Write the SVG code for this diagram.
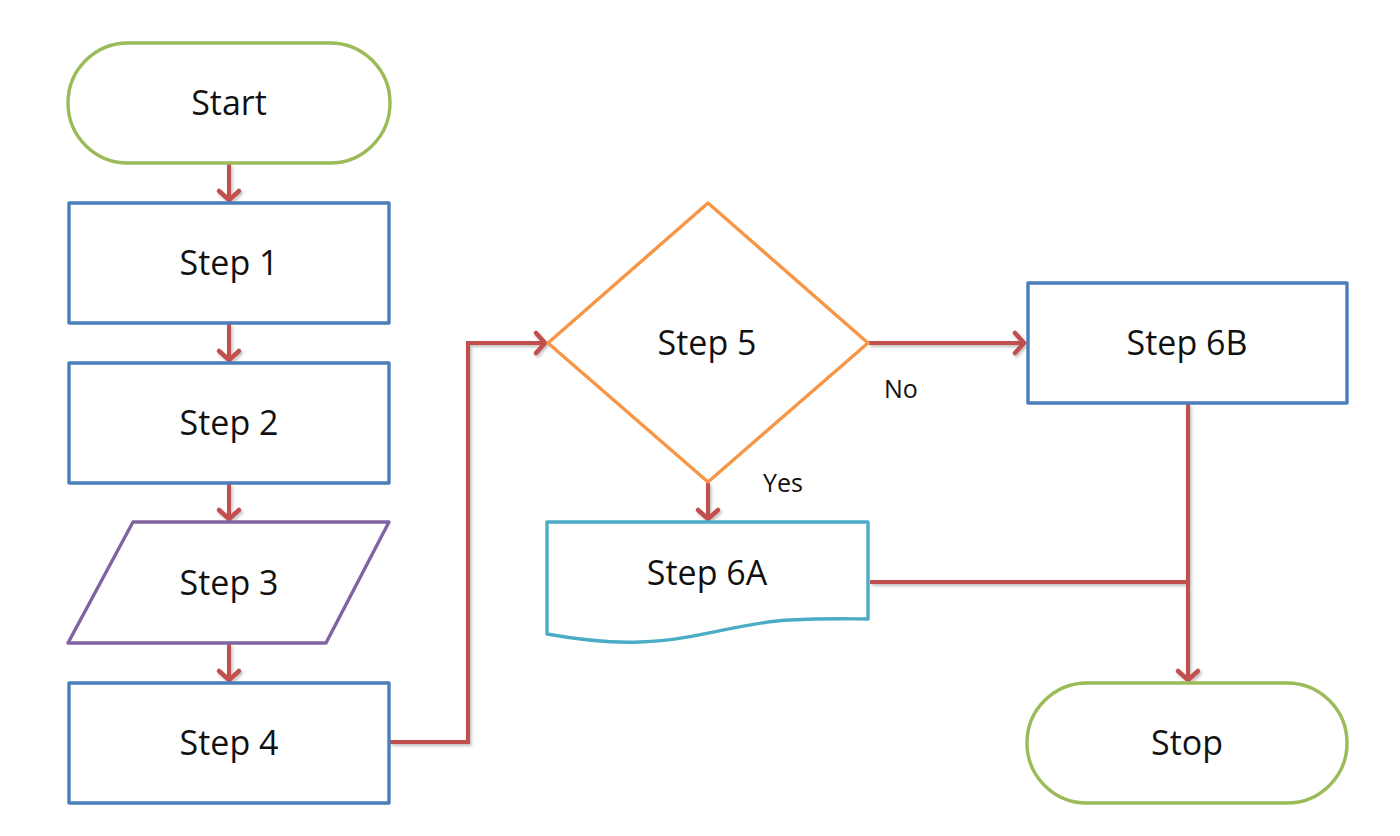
<svg xmlns="http://www.w3.org/2000/svg" width="1400" height="836" viewBox="0 0 1400 836">
<defs>
<style>
.n{fill:#fff;stroke-width:3.4;stroke-linejoin:round}
.t{font-family:"Open Sans","Noto Sans","Liberation Sans",sans-serif;font-size:34px;fill:#111;text-anchor:middle}
.l{font-family:"Open Sans","Noto Sans","Liberation Sans",sans-serif;font-size:25px;fill:#111}
.c{fill:none;stroke:#c0504d;stroke-width:4;stroke-linejoin:miter}
</style>
<marker id="ah" markerUnits="userSpaceOnUse" viewBox="-14 -14 18 28" refX="0" refY="0" markerWidth="18" markerHeight="28" orient="auto" overflow="visible">
<path d="M-10,-10 L-1,0 L-10,10" fill="none" stroke="#c0504d" stroke-width="4.5" stroke-linecap="round" stroke-linejoin="miter"/>
</marker>
<filter id="sh" x="-10%" y="-10%" width="120%" height="120%">
<feDropShadow dx="1.5" dy="2" stdDeviation="1.5" flood-color="#000" flood-opacity="0.25"/>
</filter>
</defs>
<rect width="1400" height="836" fill="#fff"/>
<g id="connectors" filter="url(#sh)">
<path class="c" d="M229,164 V201" marker-end="url(#ah)"/>
<path class="c" d="M229,324 V361" marker-end="url(#ah)"/>
<path class="c" d="M229,484 V520" marker-end="url(#ah)"/>
<path class="c" d="M229,644 V681" marker-end="url(#ah)"/>
<path class="c" d="M390,742 H468 V343 H546" marker-end="url(#ah)"/>
<path class="c" d="M869,343 H1025" marker-end="url(#ah)"/>
<path class="c" d="M708,483 V520" marker-end="url(#ah)"/>
<path class="c" d="M870,582 H1188"/>
<path class="c" d="M1188,404 V681" marker-end="url(#ah)"/>
</g>
<g id="start">
<rect class="n" x="68" y="43" width="322" height="120" rx="60" stroke="#9bbb59"/>
<text class="t" x="229" y="115">Start</text>
</g>
<g id="step1">
<rect class="n" x="69" y="203" width="320" height="120" stroke="#4a7ebb"/>
<text class="t" x="229" y="275">Step 1</text>
</g>
<g id="step2">
<rect class="n" x="69" y="363" width="320" height="120" stroke="#4a7ebb"/>
<text class="t" x="229" y="435">Step 2</text>
</g>
<g id="step3">
<polygon class="n" points="133,522 389,522 326,643 68,643" stroke="#8064a2"/>
<text class="t" x="229" y="595">Step 3</text>
</g>
<g id="step4">
<rect class="n" x="69" y="683" width="320" height="120" stroke="#4a7ebb"/>
<text class="t" x="229" y="755">Step 4</text>
</g>
<g id="step5">
<polygon class="n" points="708,203 868,343 708,482 548,343" stroke="#f79646"/>
<text class="t" x="707" y="355">Step 5</text>
</g>
<g id="step6b">
<rect class="n" x="1028" y="283" width="319" height="120" stroke="#4a7ebb"/>
<text class="t" x="1187" y="355">Step 6B</text>
</g>
<g id="step6a">
<path class="n" d="M547,522 H868 V619 C850,619 830,618 790,620 C740,622 700,640 640,642 C610,643 580,640 547,634 Z" stroke="#4bacc6"/>
<text class="t" x="707" y="585">Step 6A</text>
</g>
<g id="stop">
<rect class="n" x="1027" y="683" width="320" height="120" rx="60" stroke="#9bbb59"/>
<text class="t" x="1187" y="755">Stop</text>
</g>
<g id="labels">
<text class="l" x="884" y="398">No</text>
<text class="l" x="763" y="492">Yes</text>
</g>
</svg>
